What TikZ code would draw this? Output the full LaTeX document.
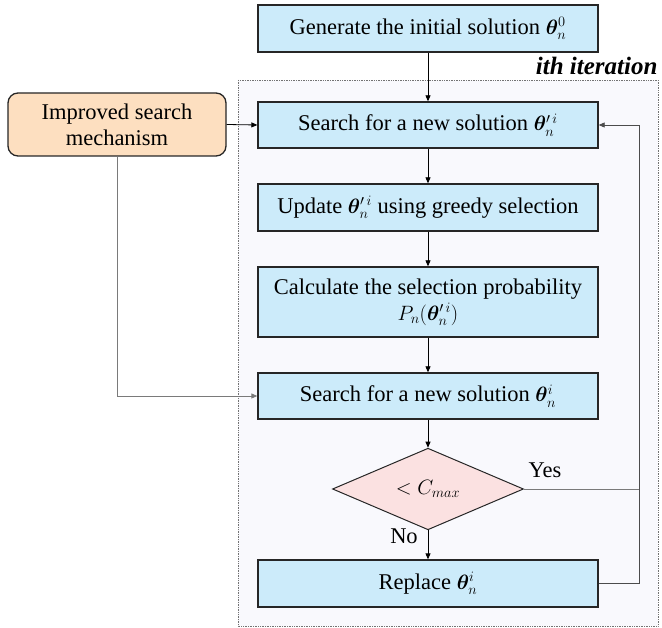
\documentclass[tikz,border=0pt]{standalone}
\usepackage{amsmath,bm}
\usepackage{fontspec}
\setmainfont{Liberation Serif}
\usetikzlibrary{shapes.geometric,arrows.meta}
\definecolor{boxblue}{HTML}{CCEBFA}
\definecolor{boxorange}{HTML}{FDDFC0}
\definecolor{boxpink}{HTML}{FBE1E1}
\definecolor{framebg}{HTML}{F9F9FD}
\definecolor{linegray}{HTML}{7A7A7A}
\tikzset{
  txt/.style={font=\rmfamily\fontsize{22.5}{26}\selectfont},
  stepbox/.style={txt, draw=black!85, line width=1.3pt, fill=boxblue, minimum width=340pt,
    align=center, inner sep=2pt},
  mechbox/.style={txt, draw=black!85, line width=1.3pt, fill=boxorange, rounded corners=10pt,
    minimum width=218pt, minimum height=63pt, align=center},
  testbox/.style={txt, draw=black!85, line width=1pt, fill=boxpink, shape=diamond, inner sep=0pt,
    minimum width=191pt, minimum height=68pt},
  flow/.style={line width=0.8pt, -{Triangle[length=6pt,width=5pt]}}
}
\begin{document}
\begin{tikzpicture}[x=1pt,y=-1pt]
  \useasboundingbox (0,0) rectangle (662,628);
  % iteration frame
  \draw[densely dotted, draw=black!55, fill=framebg, line width=0.7pt] (238,80) rectangle (658,626);
  \node[anchor=base east, font=\rmfamily\fontsize{25}{28}\selectfont\bfseries\itshape] (iterlbl) at (661,75) {ith iteration};

  % process steps
  \node[stepbox, minimum height=47pt] (init) at (428,28.5) {Generate the initial solution $\bm{\theta}_n^0$};
  \node[stepbox, minimum height=46pt] (srch1) at (428,125) {Search for a new solution $\bm{\theta}'^{\,i}_n$};
  \node[stepbox, minimum height=47pt] (upd) at (428,207.5) {Update $\bm{\theta}'^{\,i}_n$ using greedy selection};
  \node[stepbox, minimum height=70pt] (calc) at (428,302) {Calculate the selection probability\\ $P_n(\bm{\theta}'^{\,i}_n)$};
  \node[stepbox, minimum height=46pt] (srch2) at (428,396) {Search for a new solution $\bm{\theta}^i_n$};
  \node[testbox] (test) at (428,489) {$<C_{max}$};
  \node[stepbox, minimum height=47pt] (repl) at (428,583.5) {Replace $\bm{\theta}^i_n$};
  \node[mechbox] (mech) at (117,124.5) {Improved search\\mechanism};

  % main flow
  \draw[flow] (init) -- (srch1);
  \draw[flow] (srch1) -- (upd);
  \draw[flow] (upd) -- (calc);
  \draw[flow] (calc) -- (srch2);
  \draw[flow] (srch2) -- (test);
  \draw[flow] (test) -- (repl);
  \node[txt] (nolbl) at (404,536) {No};

  % feedback loop
  \coordinate (loopx) at (639,583.5);
  \draw[flow, draw=black!70] (repl.east) -- (loopx) |- (srch1.east);
  \draw[line width=0.8pt, draw=linegray] (test.east) -- (test.east -| loopx);
  \node[txt] (yeslbl) at (545,470) {Yes};

  % improved search mechanism inputs
  \draw[flow] (mech.east) -- (srch1.west);
  \draw[flow, draw=linegray] (mech.south) |- (srch2.west);
\end{tikzpicture}
\end{document}
